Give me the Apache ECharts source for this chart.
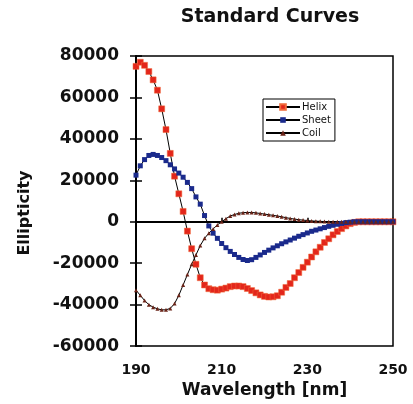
<!DOCTYPE html>
<html>
<head>
<meta charset="utf-8">
<script src="https://cdn.jsdelivr.net/npm/echarts@6/dist/echarts.min.js"></script>
<style>html,body{margin:0;padding:0;background:#fff}#c{width:413px;height:404px}</style>
</head>
<body>
<div id="c"></div>
<script>
var wavelengths = [];
for (var w = 190; w <= 250; w++) wavelengths.push(w);

var helix = [75000,77000,75500,72500,68500,63500,54500,44500,33000,22000,
  13500,5000,-4500,-13000,-20500,-27000,-30500,-32300,-32800,-33000,
  -32500,-32000,-31300,-31000,-31000,-31300,-32200,-33200,-34300,-35300,
  -36000,-36300,-36200,-35700,-34000,-31700,-29800,-27000,-24500,-22000,
  -19500,-17000,-14500,-12300,-10000,-8200,-6300,-4700,-3300,-2000,
  -900,-300,0,0,0,0,0,0,0,0,0];

var sheet = [22500,27000,30000,32000,32500,32000,31000,29500,27500,25500,
  23500,21500,19000,16000,12000,8500,3000,-2000,-5500,-8000,
  -10500,-12500,-14300,-15800,-17200,-18200,-18700,-18300,-17200,-16000,
  -14800,-13700,-12600,-11600,-10600,-9700,-8800,-7900,-7000,-6200,
  -5400,-4600,-4000,-3400,-2800,-2200,-1700,-1200,-800,-400,
  -200,0,0,0,0,0,0,0,0,0,0];

var coil = [-33000,-35500,-38000,-40000,-41200,-42000,-42500,-42500,-41800,-39500,
  -35500,-30500,-25500,-20500,-16000,-11500,-8000,-5500,-3500,-1500,
  0,1500,2800,3500,4100,4400,4500,4500,4300,4000,
  3700,3400,3100,2800,2400,2000,1600,1300,1000,800,
  600,400,300,200,100,50,0,0,0,0,
  0,0,0,0,0,0,0,0,0,0,0];

var xTicks = [190,210,230,250];
var yTicks = [-60000,-40000,-20000,0,20000,40000,60000,80000];

function pairs(arr){ return wavelengths.map(function(x,i){ return [x, arr[i]]; }); }

var font = 'DejaVu Sans';
var chart = echarts.init(document.getElementById('c'), null, {renderer:'canvas'});
chart.setOption({
  animation: false,
  backgroundColor: '#fff',
  title: {
    text: 'Standard Curves',
    left: 265, top: 3, textAlign: 'center',
    textStyle: {fontFamily: font, fontWeight: 'bold', fontSize: 19, color: '#111'}
  },
  legend: {
    orient: 'vertical', left: 263, top: 99,
    itemWidth: 34, itemHeight: 7, itemGap: 3,
    backgroundColor: '#fff',
    borderColor: '#000', borderWidth: 1, borderRadius: 0,
    padding: [3, 4, 3, 2],
    textStyle: {fontFamily: font, fontSize: 10, color: '#111', padding: [0,0,0,-3]},
    data: ['Helix','Sheet','Coil']
  },
  grid: {
    left: 136, right: 20, top: 56, bottom: 57,
    show: true, borderColor: '#000', borderWidth: 1.5, backgroundColor: '#fff'
  },
  xAxis: {
    type: 'value', min: xTicks[0], max: xTicks[xTicks.length-1], interval: 20,
    name: 'Wavelength [nm]', nameLocation: 'middle', nameGap: 30,
    nameTextStyle: {fontFamily: font, fontWeight: 'bold', fontSize: 17, color: '#111'},
    axisLine: {show: true, lineStyle: {color: '#000', width: 2}},
    axisTick: {show: true, inside: true, length: 4, lineStyle: {color: '#000', width: 1.5}},
    axisLabel: {fontFamily: font, fontWeight: 'bold', fontSize: 14, color: '#111', margin: 17,
      formatter: function(v){ return String(v); }},
    splitLine: {show: false}
  },
  yAxis: [{
    type: 'value', min: yTicks[0], max: yTicks[yTicks.length-1], interval: 20000,
    name: 'Ellipticity', nameLocation: 'middle', nameGap: 103, nameRotate: 90,
    nameTextStyle: {fontFamily: font, fontWeight: 'bold', fontSize: 16, color: '#111', padding: [0, 24, 0, 0]},
    axisLine: {show: true, lineStyle: {color: '#000', width: 2}},
    axisTick: {show: true, inside: false, length: 6, lineStyle: {color: '#000', width: 1.5}},
    axisLabel: {fontFamily: font, fontWeight: 'bold', fontSize: 17, color: '#111', margin: 17,
      formatter: function(v){ return String(v); }},
    splitLine: {show: false}
  }, {
    type: 'value', position: 'left', min: yTicks[0], max: yTicks[yTicks.length-1], interval: 20000,
    axisLine: {show: false},
    axisTick: {show: true, inside: true, length: 6, lineStyle: {color: '#000', width: 1.5}},
    axisLabel: {show: false},
    splitLine: {show: false}
  }],
  series: [{
    name: 'Helix', type: 'line', data: pairs(helix),
    symbol: 'rect', symbolSize: 6, showSymbol: true, showAllSymbol: true,
    lineStyle: {color: '#000', width: 1},
    itemStyle: {color: '#e3261b', borderColor: '#f06a3a', borderWidth: 0.5}
  }, {
    name: 'Sheet', type: 'line', data: pairs(sheet),
    symbol: 'rect', symbolSize: 5, showSymbol: true, showAllSymbol: true,
    lineStyle: {color: '#000', width: 1},
    itemStyle: {color: '#1a2a8c'}
  }, {
    name: 'Coil', type: 'line', data: pairs(coil),
    symbol: 'triangle', symbolSize: 4, showSymbol: true, showAllSymbol: true,
    lineStyle: {color: '#000', width: 1},
    itemStyle: {color: '#6a2418'}
  }]
});
</script>
</body>
</html>
